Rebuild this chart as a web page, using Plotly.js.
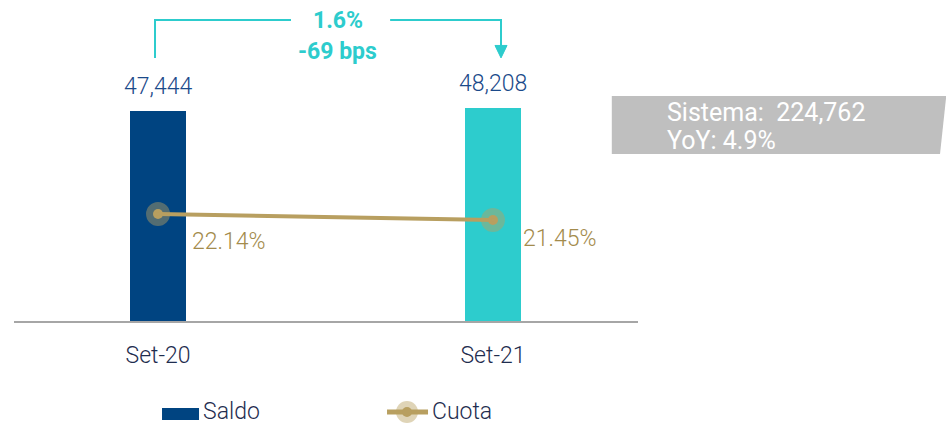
<!DOCTYPE html>
<html><head><meta charset="utf-8">
<script src="https://cdn.plot.ly/plotly-3.0.1.min.js"></script>
<style>html,body{margin:0;padding:0;background:#fff}#c{width:946px;height:424px}</style>
</head><body><div id="c"></div>
<script>
const categories = ['Set-20', 'Set-21'];
const saldo = [47444, 48208];
const cuota = [22.14, 21.45];
const saldoColors = ['#004481', '#2DCCCD'];
const changeLabels = ['1.6%', '-69 bps'];
const sistemaLines = ['Sistema:&nbsp;&nbsp;224,762', 'YoY: 4.9%'];
const legendNames = ['Saldo', 'Cuota'];

const FONT = 'Roboto, "Open Sans", sans-serif';
const GOLD = '#B89F60';
const GOLDTXT = '#A38B4C';
const NAVY = '#1F2D4F';
const TURQ = '#2DCCCD';
const LW = 300;

const fmt = v => v.toLocaleString('en-US');

const traces = [
  {
    type: 'bar', x: categories, y: saldo, name: legendNames[0],
    marker: {color: saldoColors}, width: 0.167, hoverinfo: 'skip'
  },
  {
    type: 'scatter', mode: 'lines+markers', x: categories, y: cuota, yaxis: 'y2',
    name: legendNames[1], line: {color: GOLD, width: 4},
    marker: {color: GOLD, size: 10, line: {color: 'rgba(184,159,96,0.45)', width: 14}},
    hoverinfo: 'skip'
  }
];

const annotations = [];
// bar value labels
categories.forEach((c, i) => {
  annotations.push({x: c, y: saldo[i], xref: 'x', yref: 'y', text: fmt(saldo[i]),
    showarrow: false, yanchor: 'bottom', yshift: 9,
    font: {family: FONT, size: 23, color: '#1B4A8A', weight: LW}});
});
// cuota labels
const cuotaOffsets = [[32, -27], [28, -18]];
categories.forEach((c, i) => {
  annotations.push({x: c, y: cuota[i], xref: 'x', yref: 'y2', text: cuota[i].toFixed(2) + '%',
    showarrow: false, xanchor: 'left', yanchor: 'middle',
    xshift: cuotaOffsets[i][0], yshift: cuotaOffsets[i][1],
    font: {family: FONT, size: 23, color: GOLDTXT, weight: LW}});
});
// change labels
annotations.push({x: 0.537, y: 0.965, xref: 'x', yref: 'paper', text: '<b>' + changeLabels[0] + '</b>',
  showarrow: false, yanchor: 'middle', font: {family: FONT, size: 23, color: TURQ}});
annotations.push({x: 0.537, y: 0.865, xref: 'x', yref: 'paper', text: '<b>' + changeLabels[1] + '</b>',
  showarrow: false, yanchor: 'middle', font: {family: FONT, size: 23, color: TURQ}});
// sistema box text
annotations.push({x: 1.0433, y: 0.669, xref: 'paper', yref: 'paper', text: sistemaLines[0],
  showarrow: false, xanchor: 'left', yanchor: 'middle', font: {family: FONT, size: 25, color: '#FFFFFF'}});
annotations.push({x: 1.0433, y: 0.579, xref: 'paper', yref: 'paper', text: sistemaLines[1],
  showarrow: false, xanchor: 'left', yanchor: 'middle', font: {family: FONT, size: 25, color: '#FFFFFF'}});
// legend labels
annotations.push({x: 0.2997, y: -0.2926, xref: 'paper', yref: 'paper', text: legendNames[0],
  showarrow: false, xanchor: 'left', yanchor: 'middle', font: {family: FONT, size: 23, color: NAVY, weight: LW}});
annotations.push({x: 0.6667, y: -0.2926, xref: 'paper', yref: 'paper', text: legendNames[1],
  showarrow: false, xanchor: 'left', yanchor: 'middle', font: {family: FONT, size: 23, color: NAVY, weight: LW}});

const shapes = [
  // bracket
  {type: 'path', xref: 'x', yref: 'paper',
   path: 'M -0.009 0.846 L -0.009 0.968 L 0.397 0.968', line: {color: TURQ, width: 2}},
  {type: 'path', xref: 'x', yref: 'paper',
   path: 'M 0.693 0.968 L 1.024 0.968 L 1.024 0.88', line: {color: TURQ, width: 2}},
  {type: 'path', xref: 'x', yref: 'paper',
   path: 'M 1.006 0.886 L 1.042 0.886 L 1.024 0.846 Z', fillcolor: TURQ, line: {color: TURQ, width: 1}},
  // sistema box
  {type: 'path', xref: 'paper', yref: 'paper',
   path: 'M 0.958 0.7235 L 1.494 0.7235 L 1.484 0.537 L 0.958 0.537 Z',
   fillcolor: '#BFBFBF', line: {width: 0}, layer: 'below'},
  // legend symbols
  {type: 'rect', xref: 'paper', yref: 'paper', x0: 0.2372, x1: 0.2965, y0: -0.2797, y1: -0.3183,
   fillcolor: saldoColors[0], line: {width: 0}},
  {type: 'line', xref: 'paper', yref: 'paper', x0: 0.5978, x1: 0.6635, y0: -0.2926, y1: -0.2926,
   line: {color: GOLD, width: 5}},
  {type: 'circle', xref: 'paper', yref: 'paper', xsizemode: 'pixel', ysizemode: 'pixel',
   xanchor: 0.6298, yanchor: -0.2926, x0: -11, x1: 11, y0: -11, y1: 11,
   fillcolor: 'rgba(184,159,96,0.45)', line: {width: 0}},
  {type: 'circle', xref: 'paper', yref: 'paper', xsizemode: 'pixel', ysizemode: 'pixel',
   xanchor: 0.6298, yanchor: -0.2926, x0: -5, x1: 5, y0: -5, y1: 5,
   fillcolor: GOLD, line: {width: 0}}
];

const layout = {
  width: 946, height: 424,
  margin: {l: 14, r: 308, t: 10, b: 103},
  paper_bgcolor: '#fff', plot_bgcolor: '#fff',
  font: {family: FONT, color: NAVY},
  showlegend: false,
  xaxis: {type: 'category', range: [-0.43, 1.433], showline: true, linecolor: '#A6A6A6', linewidth: 2,
    ticks: '', showgrid: false, zeroline: false, ticklabelstandoff: 12,
    tickfont: {family: FONT, size: 23, color: NAVY, weight: LW}, fixedrange: true},
  yaxis: {range: [0, 70260], visible: false, showgrid: false, zeroline: false, fixedrange: true},
  yaxis2: {range: [9.835, 45.6], overlaying: 'y', visible: false, showgrid: false, zeroline: false, fixedrange: true},
  annotations: annotations,
  shapes: shapes,
  bargap: 0
};

Plotly.newPlot('c', traces, layout, {displayModeBar: false, staticPlot: true});
</script>
</body></html>
